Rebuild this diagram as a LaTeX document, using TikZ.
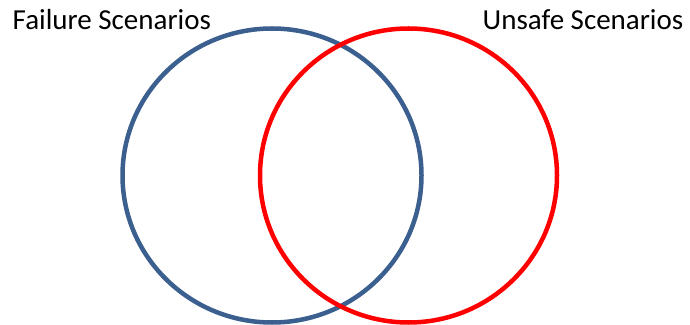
\documentclass[tikz,border=0pt]{standalone}
\usepackage{fontspec}
\setmainfont{Carlito}
\definecolor{setblue}{HTML}{3B5F8E}
\definecolor{setred}{HTML}{FF0000}
\tikzset{setring/.style={line width=4.5pt},
 setlabel/.style={font=\fontsize{29pt}{30pt}\selectfont, inner sep=0pt, anchor=base west}}
\begin{document}
\begin{tikzpicture}[x=1pt,y=1pt]
\useasboundingbox (0,0) rectangle (690,324);
\draw[setring, setblue] (272,148.5) ellipse [x radius=149.5, y radius=147];
\draw[setring, setred] (408.5,148.5) ellipse [x radius=148.5, y radius=147];
\node[setlabel] (fail) at (12.5,294) {Failure Scenarios};
\node[setlabel] (unsafe) at (482.5,294) {Unsafe Scenarios};
\end{tikzpicture}
\end{document}
